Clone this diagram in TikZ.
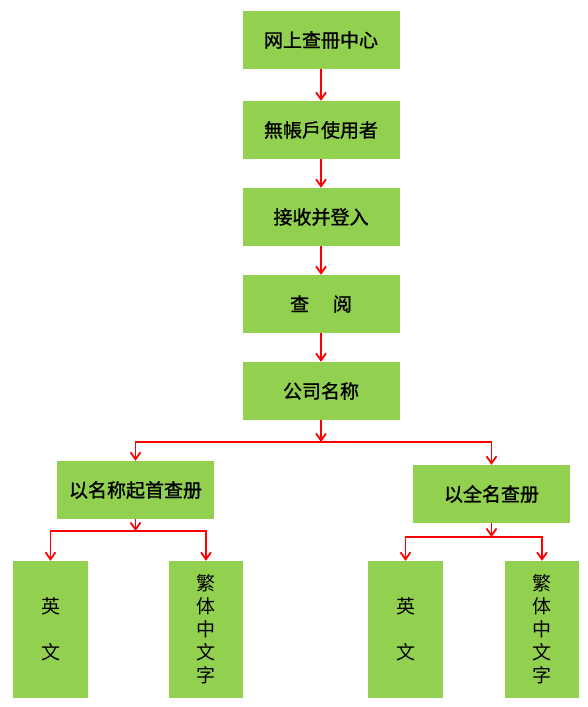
\documentclass[tikz,border=0pt]{standalone}
\usepackage{fontspec}
\newfontfamily\cjk{Noto Sans CJK SC}
\newfontfamily\cjkheavy[FakeBold=1.2]{Noto Sans CJK SC}
\usepackage{xcolor}
\usepackage{tikz}
\usetikzlibrary{arrows.meta}
\definecolor{boxgreen}{HTML}{92D050}
\definecolor{arrred}{HTML}{FF0000}
\tikzset{
  stepbox/.style={fill=boxgreen,draw=none,align=center,minimum width=157pt,minimum height=58pt,inner sep=0pt,font=\cjkheavy\fontsize{19}{23}\selectfont},
  tallbox/.style={fill=boxgreen,draw=none,align=center,minimum width=75pt,minimum height=137pt,inner sep=0pt,font=\cjk\fontsize{19}{23}\selectfont},
  arr/.style={-{Straight Barb[length=7pt,width=10pt]},draw=arrred,line width=1.8pt},
}

\begin{document}
\begin{tikzpicture}[x=1pt,y=-1pt]
  \useasboundingbox (0,0) rectangle (587,707);
  % main column
  \node[stepbox] (centre) at (321,40) {网上查冊中心};
  \node[stepbox] (guest) at (321,130) {無帳戶使用者};
  \node[stepbox] (accept) at (321,217) {接收并登入};
  \node[stepbox] (browse) at (321,304) {查\hspace{1.25em}阅};
  \node[stepbox] (corp) at (321,391) {公司名称};
  % two search ways
  \node[stepbox] (byfirst) at (135.5,490) {以名称起首查册};
  \node[stepbox] (byfull) at (491.5,494) {以全名查册};
  \node[tallbox] (enL) at (50.5,629.5) {英\\[23pt]文};
  \node[tallbox,minimum width=74pt] (trL) at (206,629.5) {繁\\体\\中\\文\\字};
  \node[tallbox] (enR) at (405.5,629.5) {英\\[23pt]文};
  \node[tallbox,minimum width=74pt] (trR) at (542,629.5) {繁\\体\\中\\文\\字};
  \coordinate (split) at (321,442);
  \coordinate (lsplit) at (135.5,531);
  \coordinate (rsplit) at (491.5,537);
  \draw[arr] (centre) -- (guest);
  \draw[arr] (guest) -- (accept);
  \draw[arr] (accept) -- (browse);
  \draw[arr] (browse) -- (corp);
  \draw[arr] (corp) -- (split);
  \draw[arr] (split) -| (byfirst.north);
  \draw[arr] (split) -| (byfull.north);
  \draw[arr] (byfirst) -- (lsplit);
  \draw[arr] (lsplit) -| (enL.north);
  \draw[arr] (lsplit) -| (trL.north);
  \draw[arr] (byfull) -- (rsplit);
  \draw[arr] (rsplit) -| (enR.north);
  \draw[arr] (rsplit) -| (trR.north);
\end{tikzpicture}
\end{document}
